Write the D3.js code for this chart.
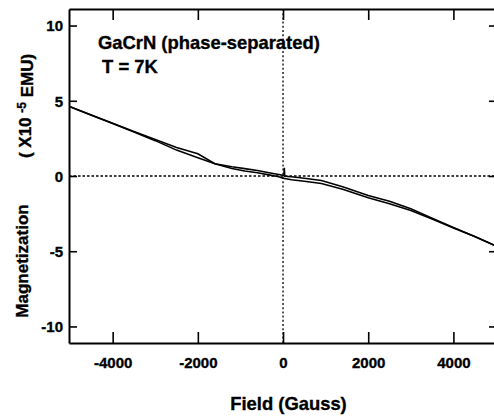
<!DOCTYPE html>
<html><head><meta charset="utf-8">
<script src="https://cdn.jsdelivr.net/npm/d3@7"></script>
<style>body{margin:0;background:#fff}svg{display:block}text{font-family:"Liberation Sans",Arial,Helvetica,sans-serif;font-weight:bold;fill:#000;stroke:#000;stroke-width:0.35px}</style>
</head><body>
<svg id="c" width="494" height="416"></svg>
<script>
const fieldUp = [-5000,-4500,-4000,-3500,-3000,-2500,-2000,-1600,-1200,-900,-600,-300,-100,0,20,30,40,200,500,900,1400,2000,2500,3000,3500,4000,4500,5000];
const magUp   = [4.60,4.05,3.50,2.96,2.43,1.90,1.48,0.82,0.62,0.49,0.36,0.20,0.10,0.05,0.02,0.55,-0.02,-0.05,-0.15,-0.30,-0.72,-1.30,-1.68,-2.18,-2.80,-3.42,-4.02,-4.65];
const fieldDown = [-5000,-4500,-4000,-3500,-3000,-2500,-2000,-1600,-1200,-900,-600,-300,-100,0,200,500,900,1400,2000,2500,3000,3500,4000,4500,5000];
const magDown   = [4.60,4.04,3.49,2.92,2.35,1.72,1.22,0.82,0.50,0.33,0.22,0.06,-0.05,-0.15,-0.25,-0.35,-0.50,-0.88,-1.45,-1.85,-2.30,-2.86,-3.45,-4.02,-4.65];
const xTicks = [-4000,-2000,0,2000,4000];
const yTicks = [-10,-5,0,5,10];
const title1 = "GaCrN (phase-separated)";
const title2 = " T = 7K";
const xTitle = "Field (Gauss)";

const svg = d3.select("#c");
const L=69, R=496, T=9, B=343;
const x = d3.scaleLinear().domain([-5025,5000]).range([L,R]);
const y = d3.scaleLinear().domain([-11.1,11.1]).range([B,T]);
const fmt = d => String(d);

svg.append("clipPath").attr("id","clip").append("rect").attr("x",L).attr("y",T).attr("width",R-L).attr("height",B-T);

// dotted zero lines
svg.append("line").attr("x1",L).attr("x2",R).attr("y1",y(0)).attr("y2",y(0))
  .attr("stroke","#000").attr("stroke-width",1.3).attr("stroke-dasharray","2.5,2");
svg.append("line").attr("x1",x(0)).attr("x2",x(0)).attr("y1",T).attr("y2",B)
  .attr("stroke","#000").attr("stroke-width",1.3).attr("stroke-dasharray","2,2.2");

const line = d3.line().x(d=>x(d[0])).y(d=>y(d[1]));
const g = svg.append("g").attr("clip-path","url(#clip)");
g.append("path").datum(fieldUp.map((f,i)=>[f,magUp[i]])).attr("d",line)
  .attr("fill","none").attr("stroke","#000").attr("stroke-width",1.6);
g.append("path").datum(fieldDown.map((f,i)=>[f,magDown[i]])).attr("d",line)
  .attr("fill","none").attr("stroke","#000").attr("stroke-width",1.6);

// axes
function styleAxis(sel){
  sel.select(".domain").attr("stroke-width",2);
  sel.selectAll(".tick line").attr("stroke-width",1.6);
  sel.selectAll("text").style("font-size","15px").style("font-weight","bold").attr("fill","#000");
}
const xb = svg.append("g").attr("transform",`translate(0,${B})`)
  .call(d3.axisBottom(x).tickValues(xTicks).tickSize(-11).tickSizeOuter(0).tickFormat(fmt));
styleAxis(xb);
xb.selectAll("text").attr("y",25).attr("dy",0);
const xt = svg.append("g").attr("transform",`translate(0,${T})`)
  .call(d3.axisTop(x).tickValues(xTicks).tickSize(-11).tickSizeOuter(0).tickFormat(""));
styleAxis(xt);
const yl = svg.append("g").attr("transform",`translate(${L},0)`)
  .call(d3.axisLeft(y).tickValues(yTicks).tickSize(-8).tickSizeOuter(0).tickPadding(6).tickFormat(fmt));
styleAxis(yl);
yl.selectAll("text").attr("dy","0.36em");
const yr = svg.append("g").attr("transform",`translate(${R},0)`)
  .call(d3.axisRight(y).tickValues(yTicks).tickSize(-7).tickSizeOuter(0).tickFormat(""));
styleAxis(yr);
svg.selectAll(".domain").attr("stroke","#000");
svg.selectAll(".tick line").attr("stroke","#000");

// annotations
svg.append("text").attr("x",98).attr("y",49).style("font-size","18.4px").text(title1);
svg.append("text").attr("x",97).attr("y",73).style("font-size","18.4px").attr("xml:space","preserve").text(title2);

svg.append("text").attr("x",288.5).attr("y",410).attr("text-anchor","middle").style("font-size","18.4px").text(xTitle);

svg.append("text").attr("transform","translate(28,261) rotate(-90)").attr("text-anchor","middle")
  .style("font-size","17px").text("Magnetization");
const yt2 = svg.append("text").attr("transform","translate(31,106) rotate(-90)").attr("text-anchor","middle")
  .style("font-size","17px");
yt2.append("tspan").text("( X10 ");
yt2.append("tspan").attr("dy","-0.45em").style("font-size","12px").text("-5");
yt2.append("tspan").attr("dy","0.45em").text(" EMU)");
</script>
</body></html>
